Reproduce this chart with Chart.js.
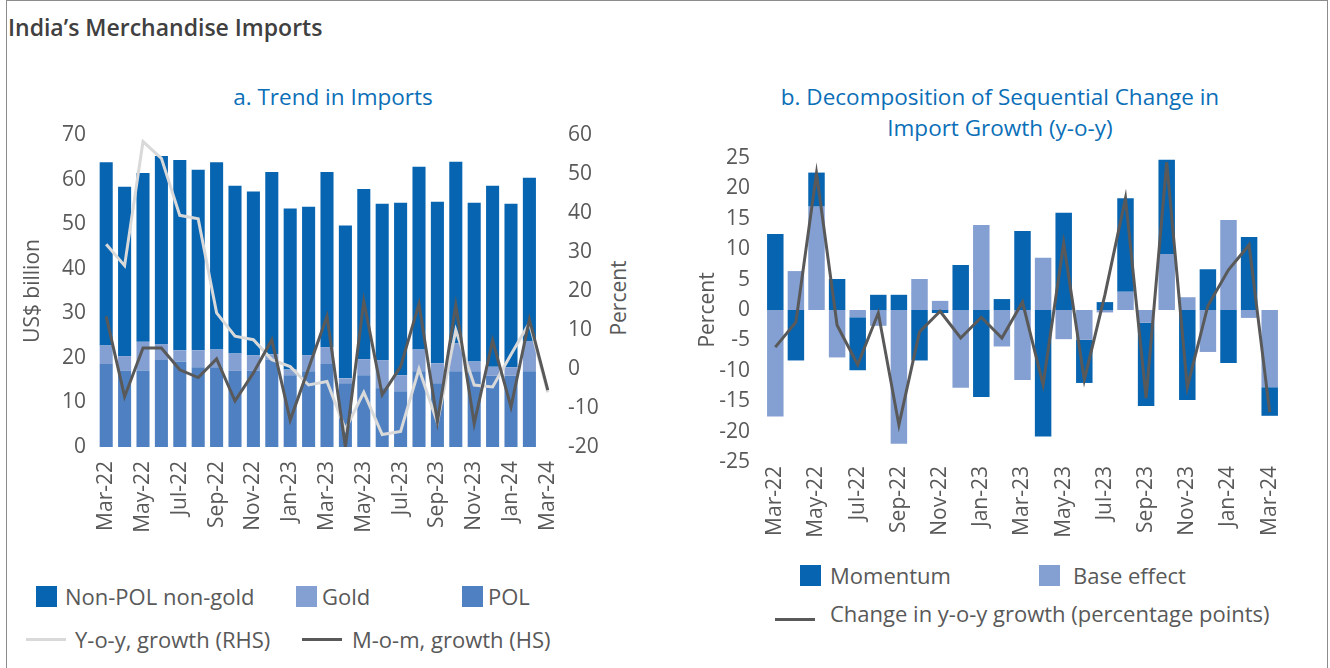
<!DOCTYPE html>
<html>
<head>
<meta charset="utf-8">
<title>India's Merchandise Imports</title>
<script src="https://cdn.jsdelivr.net/npm/chart.js@4.4.1/dist/chart.umd.min.js"></script>
<style>
  body { margin: 0; background: #fff; font-family: "Open Sans", sans-serif; color: #595959; }
  #page { position: relative; width: 1330px; height: 668px; overflow: hidden; }
  #frame { position: absolute; left: 6px; top: 0; width: 1320px; height: 700px; border: 1.5px solid #8c8c8c; }
  .txt { position: absolute; white-space: nowrap; }
  #main_title { left: 8px; top: 11px; font-size: 23px; line-height: 32px; font-weight: 600; color: #404040; }
  .panel_title { color: #0b6fb8; font-size: 22.5px; line-height: 31px; text-align: center; width: 600px; }
  .legend_text { font-size: 22px; line-height: 24px; color: #595959; }
  .swatch { position: absolute; }
  canvas { position: absolute; top: 0; }
</style>
</head>
<body>
<div id="page">
  <div id="frame"></div>
  <div class="txt" id="main_title">India’s Merchandise Imports</div>
  <div class="txt panel_title" style="left:33px; top:81px;">a. Trend in Imports</div>
  <div class="txt panel_title" style="left:700px; top:81px;">b. Decomposition of Sequential Change in<br>Import Growth (y-o-y)</div>
  <div class="txt legend_text" style="left:618px; top:298px; font-size:21px; transform: translate(-50%, -50%) rotate(-90deg);">Percent</div>
  <canvas id="chart_a" width="660" height="560" style="left:0px;"></canvas>
  <canvas id="chart_b" width="670" height="560" style="left:660px;"></canvas>
  <div id="legends"></div>
</div>
<script>
// months on the category axis
const months = ["Mar-22", "Apr-22", "May-22", "Jun-22", "Jul-22", "Aug-22", "Sep-22", "Oct-22", "Nov-22", "Dec-22",
  "Jan-23", "Feb-23", "Mar-23", "Apr-23", "May-23", "Jun-23", "Jul-23", "Aug-23", "Sep-23", "Oct-23", "Nov-23", "Dec-23",
  "Jan-24", "Feb-24", "Mar-24"];

// a. Trend in Imports (US$ billion)
const pol = [18.6, 17.1, 17.1, 19.5, 19.2, 17.9, 17.9, 17.1, 17.1, 19.5, 16.1, 17.0, 18.6, 14.3, 16.1, 13.2, 12.5, 17.0, 14.3, 17.0, 17.0, 16.0, 16.0, 17.0, null];
const gold = [4.2, 3.3, 6.5, 3.6, 2.5, 3.8, 4.0, 3.9, 3.5, 1.3, 1.3, 3.6, 3.8, 1.1, 3.6, 6.3, 3.6, 4.9, 4.5, 6.3, 2.2, 2.0, 1.9, 6.8, null];
const nonPolNonGold = [41.1, 38.0, 37.9, 42.2, 42.7, 40.5, 42.0, 37.6, 36.7, 40.9, 36.1, 33.3, 39.3, 34.3, 38.2, 35.1, 38.7, 41.0, 36.2, 40.7, 35.6, 40.6, 36.7, 36.6, null];
// percent, right-hand scale
const yoyGrowth = [32.0, 26.5, 58.3, 54.0, 39.4, 38.5, 14.4, 8.4, 7.5, 2.4, 0.6, -4.1, -3.2, -15.5, -6.0, -16.8, -16.0, 0.0, -13.8, 10.0, -4.1, -4.6, 3.7, 11.8, -6.0];
const momGrowth = [13.5, -7.1, 5.4, 5.4, -0.2, -2.2, 2.6, -8.2, -1.0, 7.5, -13.1, 0.2, 13.5, -20.0, 17.4, -6.6, 0.6, 16.7, -13.5, 16.4, -14.0, 7.3, -9.7, 12.7, -5.4];

// b. Decomposition of sequential change (percent)
const momentum = [12.5, -8.3, 5.6, 5.1, -8.7, 2.5, 2.5, -8.3, -0.5, 7.4, -14.3, 1.8, 13.0, -20.8, 16.0, -7.1, 1.3, 15.4, -13.7, 15.5, -14.8, 6.7, -8.7, 12.0, -4.7];
const baseEffect = [-17.5, 6.4, 17.0, -7.8, -1.2, -2.6, -22.0, 5.1, 1.5, -12.8, 14.0, -6.0, -11.5, 8.6, -4.8, -4.9, -0.4, 3.0, -2.1, 9.2, 2.1, -6.9, 14.8, -1.3, -12.7];
const yoyChange = [-6.1, -2.0, 22.5, -2.5, -9.0, -0.5, -18.9, -3.6, -0.2, -4.6, -1.2, -4.6, 1.3, -12.3, 11.0, -11.5, 2.5, 18.4, -14.5, 24.3, -12.7, 0.7, 6.6, 10.7, -16.8];

const c_dark = "#0764b0";
const c_light = "#849fd1";
const c_mid = "#4f81c2";
const c_line_dark = "#595959";
const c_line_light = "#d9d9d9";
const text_color = "#595959";
const font21 = { family: "'Open Sans', sans-serif", size: 21 };

Chart.defaults.font.family = "'Open Sans', sans-serif";
Chart.defaults.color = text_color;

function every_other(value, index) {
  return index % 2 === 0 ? months[index] : "";
}

const x_axis = (pad, h) => ({
  stacked: true,
  grid: { display: false, drawTicks: false },
  border: { display: false },
  ticks: { autoSkip: false, minRotation: 90, maxRotation: 90, padding: pad, color: text_color, font: font21, callback: every_other },
  afterFit: (s) => { s.height = h; },
});

new Chart(document.getElementById("chart_a"), {
  type: "bar",
  data: {
    labels: months,
    datasets: [
      { type: "line", label: "M-o-m, growth (HS)", data: momGrowth, yAxisID: "y2", borderColor: c_line_dark, borderWidth: 3, pointRadius: 0, tension: 0, order: 0 },
      { type: "line", label: "Y-o-y, growth (RHS)", data: yoyGrowth, yAxisID: "y2", borderColor: c_line_light, borderWidth: 3, pointRadius: 0, tension: 0, order: 1 },
      { label: "POL", data: pol, backgroundColor: c_mid, yAxisID: "y", order: 2 },
      { label: "Gold", data: gold, backgroundColor: c_light, yAxisID: "y", order: 3 },
      { label: "Non-POL non-gold", data: nonPolNonGold, backgroundColor: c_dark, yAxisID: "y", order: 4 },
    ],
  },
  options: {
    responsive: false,
    animation: false,
    layout: { padding: { top: 135, left: 10, right: 4, bottom: 0 } },
    plugins: { legend: { display: false }, tooltip: { enabled: false } },
    datasets: { bar: { categoryPercentage: 1, barPercentage: 0.71 } },
    scales: {
      x: x_axis(14, 113),
      y: {
        stacked: true, min: 0, max: 70,
        grid: { display: false, drawTicks: false }, border: { display: false },
        ticks: { stepSize: 10, padding: 11, color: text_color, font: font21 },
        title: { display: true, text: "US$ billion", color: text_color, font: font21, padding: { top: 10, bottom: 0 } },
        afterFit: (s) => { s.width = 87; },
      },
      y2: {
        position: "right", min: -20, max: 60,
        grid: { display: false, drawTicks: false }, border: { display: false },
        ticks: { stepSize: 10, padding: 11, color: text_color, font: font21 },
        afterFit: (s) => { s.width = 99; },
      },
    },
  },
});

new Chart(document.getElementById("chart_b"), {
  type: "bar",
  data: {
    labels: months,
    datasets: [
      { type: "line", label: "Change in y-o-y growth (percentage points)", data: yoyChange, stack: "line", borderColor: c_line_dark, borderWidth: 3, pointRadius: 0, tension: 0, order: 0 },
      { label: "Base effect", data: baseEffect, backgroundColor: c_light, stack: "parts", order: 1 },
      { label: "Momentum", data: momentum, backgroundColor: c_dark, stack: "parts", order: 2 },
    ],
  },
  options: {
    responsive: false,
    animation: false,
    layout: { padding: { top: 158, left: 25, right: 50, bottom: 0 } },
    plugins: { legend: { display: false }, tooltip: { enabled: false } },
    datasets: { bar: { categoryPercentage: 1, barPercentage: 0.8 } },
    scales: {
      x: x_axis(4, 98),
      y: {
        stacked: true, min: -25, max: 25,
        grid: { display: false, drawTicks: false }, border: { display: false },
        ticks: { stepSize: 5, padding: 15, color: text_color, font: font21 },
        title: { display: true, text: "Percent", color: text_color, font: font21, padding: { top: 10, bottom: 0 } },
        afterFit: (s) => { s.width = 80; },
      },
    },
  },
});

// legends
const legend_items = [
  { kind: "box", color: c_dark, x: 36, y: 596, tx: 65, text: "Non-POL non-gold" },
  { kind: "box", color: c_light, x: 296, y: 596, tx: 322, text: "Gold" },
  { kind: "box", color: c_mid, x: 462, y: 596, tx: 488, text: "POL" },
  { kind: "line", color: c_line_light, x: 26, y: 639, tx: 75, text: "Y-o-y, growth (RHS)" },
  { kind: "line", color: c_line_dark, x: 302, y: 639, tx: 352, text: "M-o-m, growth (HS)" },
  { kind: "box", color: c_dark, x: 800, y: 575, tx: 830, text: "Momentum" },
  { kind: "box", color: c_light, x: 1039, y: 575, tx: 1073, text: "Base effect" },
  { kind: "line", color: c_line_dark, x: 775, y: 619, tx: 830, ty: 613, text: "Change in y-o-y growth (percentage points)" },
];
const legend_div = document.getElementById("legends");
for (const it of legend_items) {
  const sw = document.createElement("div");
  sw.className = "swatch";
  sw.style.background = it.color;
  sw.style.left = it.x + "px";
  if (it.kind === "box") {
    sw.style.width = "21px"; sw.style.height = "21px"; sw.style.top = (it.y - 10.5) + "px";
  } else {
    sw.style.width = "40px"; sw.style.height = "3px"; sw.style.top = (it.y - 1.5) + "px";
  }
  legend_div.appendChild(sw);
  const t = document.createElement("div");
  t.className = "txt legend_text";
  t.style.left = it.tx + "px";
  t.style.top = ((it.ty || it.y) - 12) + "px";
  t.textContent = it.text;
  legend_div.appendChild(t);
}
</script>
</body>
</html>
